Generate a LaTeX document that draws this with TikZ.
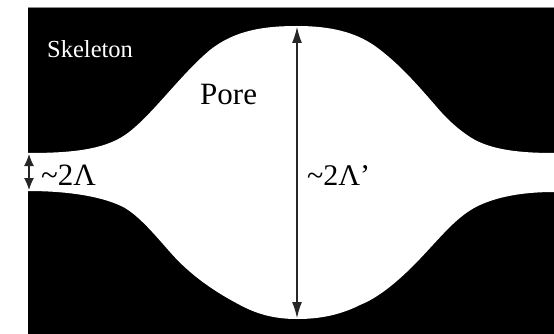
\documentclass[tikz,border=0pt]{standalone}
\usepackage{fontspec}
\setmainfont{Liberation Serif}
\usetikzlibrary{arrows.meta}
\tikzset{
  x=1pt,y=-1pt,
  lbl/.style={inner sep=0pt,anchor=base west,text=#1},
  span/.style={draw=black!85,line width=1.2pt,{Latex[length=#1,width=10pt]}-{Latex[length=#1,width=10pt]},shorten <=0pt,shorten >=0pt}
}
\begin{document}
\begin{tikzpicture}
\useasboundingbox (0,0) rectangle (554,334);
\fill[black] (28,8) rectangle (554,334);
\draw[black!45,line width=0.8pt] (28,7.5) -- (554,7.5);
\fill[white] (28,153) .. controls (70,153) and (103,150) .. (125,135)
 .. controls (150,118) and (180,75) .. (210,50)
 .. controls (235,30) and (265,26) .. (297,26)
 .. controls (330,26) and (355,32) .. (375,46)
 .. controls (400,64) and (420,88) .. (435,105)
 .. controls (445,117) and (455,127) .. (470,137)
 .. controls (490,150) and (520,153) .. (554,153)
 -- (554,192)
 .. controls (525,192) and (500,196) .. (480,205)
 .. controls (460,214) and (445,232) .. (430,248)
 .. controls (410,270) and (385,295) .. (360,305)
 .. controls (340,315) and (320,319) .. (297,319)
 .. controls (272,319) and (255,313) .. (240,305)
 .. controls (215,292) and (190,275) .. (170,252)
 .. controls (155,235) and (140,217) .. (125,208)
 .. controls (105,197) and (70,191) .. (28,191) -- cycle;
\coordinate (topA) at (297,27);
\coordinate (botA) at (297,318);
\coordinate (topB) at (29,154);
\coordinate (botB) at (29,190);
\draw[span=16pt] (topA) -- (botA);
\draw[span=12pt] (topB) -- (botB);
\node[lbl=white,font=\fontsize{24.5}{25}\selectfont] (sk) at (47,58) {Skeleton};
\node[lbl=black,font=\fontsize{31}{31}\selectfont] (po) at (200,105) {Pore};
\node[lbl=black,font=\fontsize{31}{31}\selectfont] (n1) at (41,185) {\char"007E 2Λ};
\node[lbl=black,font=\fontsize{30}{30}\selectfont] (n2) at (307,185) {\char"007E 2Λ'};
\end{tikzpicture}
\end{document}
